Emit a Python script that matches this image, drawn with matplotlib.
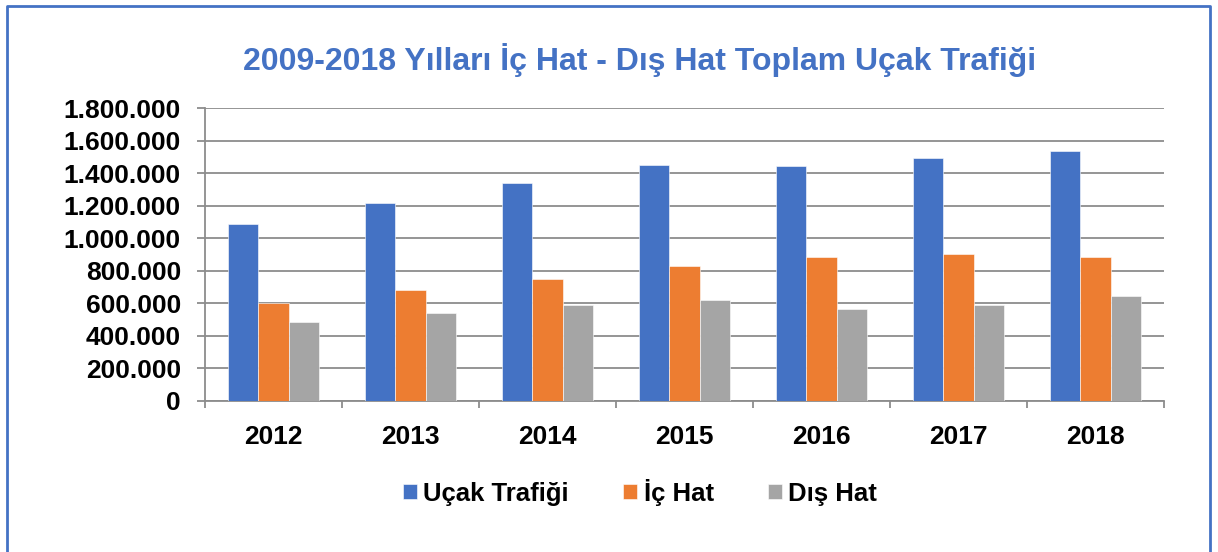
import numpy as np
import matplotlib.pyplot as plt
from matplotlib.ticker import FuncFormatter
from matplotlib.lines import Line2D

plt.rcParams['font.family'] = ['Liberation Sans', 'DejaVu Sans']

years = ['2012', '2013', '2014', '2015', '2016', '2017', '2018']
ucak_trafigi = [1087000, 1216000, 1339000, 1450000, 1445000, 1491000, 1536000]
ic_hat = [600000, 679000, 747000, 827000, 883000, 905000, 886000]
dis_hat = [488000, 539000, 591000, 619000, 563000, 591000, 647000]
series_names = ['Uçak Trafiği', 'İç Hat', 'Dış Hat']
colors = ['#4472C4', '#ED7D31', '#A5A5A5']

fig = plt.figure(figsize=(12.18, 5.52), dpi=100)
ax = fig.add_axes([205 / 1218, 1 - 401 / 552, 959 / 1218, 293 / 552])

x = np.arange(len(years))
w = 0.219
for i, (vals, c, name) in enumerate(zip([ucak_trafigi, ic_hat, dis_hat], colors, series_names)):
    ax.bar(x + (i - 1) * w, vals, w, color=c, label=name, zorder=3,
           edgecolor='white', linewidth=0.4)

ax.set_ylim(0, 1800000)
ax.set_xlim(-0.5, len(years) - 0.5)
ax.set_yticks(np.arange(0, 1800001, 200000))
ax.yaxis.set_major_formatter(FuncFormatter(lambda v, p: f'{int(v):,}'.replace(',', '.')))
ax.grid(axis='y', color='#8c8c8c', linewidth=1.3, zorder=0)

ax.set_xticks(x)
ax.set_xticklabels(years)
ax.set_xticks(np.arange(-0.5, len(years)), minor=True)
ax.tick_params(axis='x', which='major', length=0, pad=17, labelsize=19)
ax.tick_params(axis='x', which='minor', length=5, width=1.3, color='#8c8c8c')
ax.tick_params(axis='y', length=5.8, width=1.3, color='#8c8c8c', labelsize=19, pad=11.5)
for lab in ax.get_xticklabels() + ax.get_yticklabels():
    lab.set_fontweight('bold')

for s in ['top', 'right']:
    ax.spines[s].set_visible(False)
for s in ['left', 'bottom']:
    ax.spines[s].set_color('#8c8c8c')
    ax.spines[s].set_linewidth(1.3)

fig.text(640 / 1218, 1 - 60 / 552, '2009-2018 Yılları İç Hat - Dış Hat Toplam Uçak Trafiği',
         ha='center', va='center', fontsize=23, fontweight='bold', color='#4472C4')

leg = fig.legend(loc='center', bbox_to_anchor=(640 / 1218, 1 - 492 / 552), ncol=3,
                 frameon=False, handlelength=0.55, handleheight=0.55, handletextpad=0.25,
                 columnspacing=2.1, prop={'size': 18.5, 'weight': 'bold'})

# chart border
bx0, bx1, by0 = 7 / 1218, 1210 / 1218, 1 - 6 / 552
fig.add_artist(Line2D([bx0, bx0, bx1, bx1], [0, by0, by0, 0], color='#4472C4', linewidth=2,
                      transform=fig.transFigure))

fig.savefig('out.png', dpi=100)
